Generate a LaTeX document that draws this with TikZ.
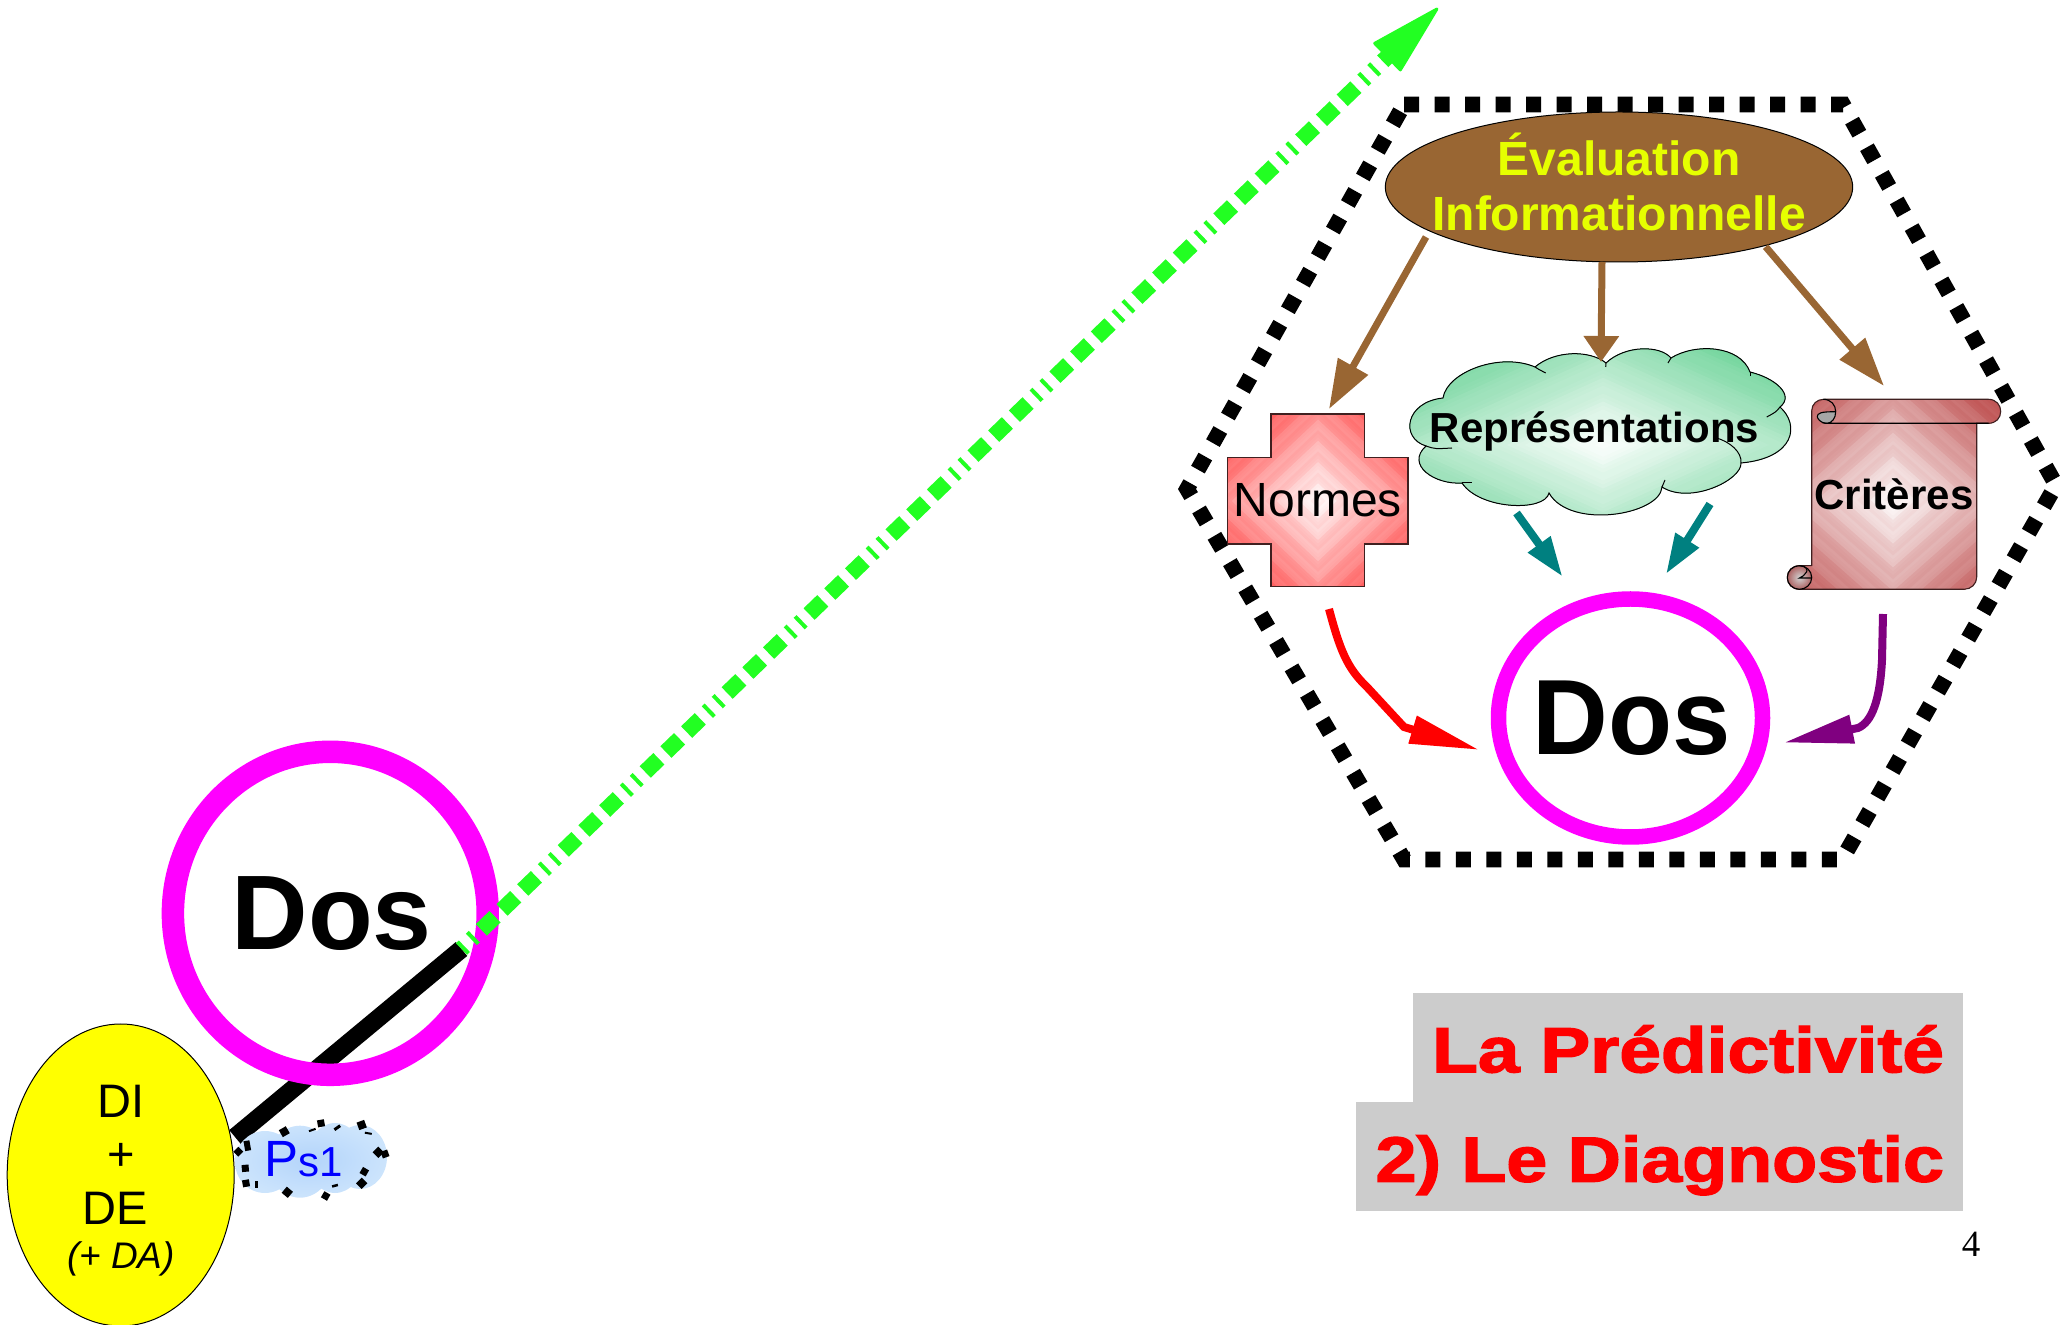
\documentclass[tikz,border=0pt]{standalone}
\usepackage{fontspec}
\setmainfont{Liberation Sans}
\newfontfamily\serifnum{Liberation Serif}
\newfontfamily\heavyfont[BoldFeatures={FakeBold=2}]{Liberation Sans}
\usetikzlibrary{arrows.meta,shapes.geometric}
\definecolor{ringmag}{HTML}{FF00FF}
\definecolor{brownfill}{HTML}{996633}
\definecolor{yellowtxt}{HTML}{E6FF00}
\definecolor{yellowfill}{HTML}{FFFF00}
\definecolor{teal1}{HTML}{008080}
\definecolor{purple1}{HTML}{800080}
\definecolor{green1}{HTML}{22FF22}
\definecolor{crossc}{HTML}{FF3C3C}
\definecolor{scrollc}{HTML}{C05555}
\definecolor{cloudc}{HTML}{55CC88}
\definecolor{greybox}{HTML}{CCCCCC}
\definecolor{outl}{HTML}{402020}
\definecolor{psin}{HTML}{B3D4FB}
\definecolor{psout}{HTML}{CCE4FC}
\definecolor{redtxt}{HTML}{FF0000}
\definecolor{bluetxt}{HTML}{0000FF}
\newcommand{\fs}[1]{\fontsize{#1}{#1}\selectfont}
% concentric diamond gradient with faint stripes
\newcommand{\diamfillb}[6]{%
  \foreach \i in {48,47,...,1}{%
    \pgfmathsetmacro\dT{\i/48}%
    \pgfmathsetmacro\pc{min(100,\dT*100+(mod(\i,6)<3?#6:0))}%
    \fill[#5!\pc!white] (#1-#3*\dT,#2) -- (#1,#2-#4*\dT) -- (#1+#3*\dT,#2) -- (#1,#2+#4*\dT) -- cycle;
  }}
\def\crosspath{(1271,414) -- (1364.7,414) -- (1364.7,457.3) -- (1408,457.3) -- (1408,544) -- (1364.7,544) -- (1364.7,586.7) -- (1271,586.7) -- (1271,544) -- (1227.3,544) -- (1227.3,457.3) -- (1271,457.3) -- cycle}
\def\cloudpath{(1443,398) .. controls (1447,372) and (1500,352) .. (1535,367)
 .. controls (1555,350) and (1590,350) .. (1606,363)
 .. controls (1625,345) and (1660,345) .. (1671,358)
 .. controls (1695,343) and (1740,345) .. (1750,372)
 .. controls (1775,378) and (1795,395) .. (1780,407)
 .. controls (1800,425) and (1795,458) .. (1741,463)
 .. controls (1742,480) and (1690,505) .. (1662,487)
 .. controls (1660,515) and (1570,530) .. (1549,493)
 .. controls (1545,512) and (1480,510) .. (1462,483)
 .. controls (1435,485) and (1405,465) .. (1426,446)
 .. controls (1400,438) and (1405,402) .. (1443,398) -- cycle}
\def\scrollpath{(1811.7,411) .. controls (1811.7,404) and (1817,399.3) .. (1824,399.3) -- (1988.5,399.3) .. controls (1996,399.3) and (2000.7,405) .. (2000.7,411.3) .. controls (2000.7,418) and (1996,423.3) .. (1988.5,423.3) -- (1976.7,423.3) -- (1976.7,577) .. controls (1976.7,584) and (1971,589.3) .. (1964,589.3) -- (1799.5,589.3) .. controls (1792,589.3) and (1787.3,584) .. (1787.3,577.5) .. controls (1787.3,571) and (1792,565.7) .. (1799.5,565.7) -- (1811.7,565.7) -- cycle}
\tikzset{
  txt/.style={inner sep=0pt,outer sep=0pt,anchor=base},
  ellnode/.style={ellipse,inner sep=0pt,outer sep=0pt},
  brownarrow/.style={draw=brownfill,line width=3.5pt},
  tealarrow/.style={draw=teal1,line width=4pt,-{Triangle[length=20pt,width=13pt]}},
  thinoutl/.style={draw=outl,line width=.55pt},
}
\begin{document}
\begin{tikzpicture}[x=.5pt,y=-.5pt]
\useasboundingbox (0,0) rectangle (2063,1325);
% hexagon
\draw[black,line width=7.8pt,dash pattern=on 7.5pt off 7.75pt] (1404,104.5) -- (1843,104.5) -- (2056,485) -- (1842,859.5) -- (1404,859.5) -- (1187,489) -- cycle;
% named connector ends
\coordinate (blackA) at (235,1137);
\coordinate (blackB) at (461.5,949);
\coordinate (greenTip) at (1438,8);
\coordinate (evalL) at (1426,237);
\coordinate (normT) at (1329,409);
\coordinate (evalM) at (1602,262);
\coordinate (repT) at (1601,362);
\coordinate (evalR) at (1765.6,246.7);
\coordinate (critT) at (1884,386);
\coordinate (repL) at (1516.5,513);
\coordinate (dosTL) at (1562.5,576.7);
\coordinate (repR) at (1710,504);
\coordinate (dosTR) at (1666,574);
\coordinate (normB) at (1329,609);
\coordinate (dosL) at (1479.5,750);
\coordinate (critB) at (1883,614);
\coordinate (dosR) at (1783.5,742.7);
% cross
\begin{scope}\clip \crosspath; \diamfillb{1318}{501}{180}{170}{crossc}{6}\end{scope}
\draw[thinoutl] \crosspath;
% cloud
\begin{scope}\clip \cloudpath; \diamfillb{1603}{445}{420}{190}{cloudc}{2}\end{scope}
\draw[black,line width=.5pt] \cloudpath;
\draw[black,line width=.5pt] (1535,367) .. controls (1538,369) .. (1545.7,373);
\draw[black,line width=.5pt] (1606,363) -- (1605.7,367);
\draw[black,line width=.5pt] (1671,358) -- (1668,363);
\draw[black,line width=.5pt] (1750,372) -- (1750,376);
\draw[black,line width=.5pt] (1780,407) .. controls (1776,412) .. (1766.7,417);
\draw[black,line width=.5pt] (1741,463) .. controls (1742,452) and (1730,442) .. (1716.7,438);
\draw[black,line width=.5pt] (1662,487) -- (1665,480);
\draw[black,line width=.5pt] (1462,483) -- (1472,483);
\draw[black,line width=.5pt] (1426,446) .. controls (1435,449) .. (1452,448);
% scroll
\begin{scope}\clip \scrollpath; \diamfillb{1893}{500}{215}{190}{scrollc}{6}\end{scope}
\draw[thinoutl] \scrollpath;
\fill[gray!70] (1826.7,423.3) .. controls (1820,423.3) and (1817.3,418) .. (1817.3,416.7) .. controls (1817.3,413) and (1821,411.7) .. (1835.7,411.7) .. controls (1835.7,418) and (1832,423.3) .. (1826.7,423.3);
\draw[black,line width=.55pt] (1823,399.3) .. controls (1831,399.3) and (1835.7,405) .. (1835.7,411.7) .. controls (1835.7,418) and (1832,423.3) .. (1826.7,423.3) -- (1988.5,423.3);
\draw[black,line width=.55pt] (1826.7,423.3) .. controls (1820,423.3) and (1817.3,418) .. (1817.3,416.7) .. controls (1817.3,413) and (1821,411.7) .. (1835.7,411.7);
\path[shade,inner color=gray!35,outer color=scrollc!70!gray,draw=black,line width=.55pt] (1799.5,577.5) ellipse [x radius=12.2,y radius=11.8];
\draw[black,line width=.55pt] (1799.5,565.7) .. controls (1806,565.7) and (1808,570) .. (1806.5,572) .. controls (1805,575) and (1802,577) .. (1799.5,578) -- (1811.7,578);
% brown ellipse
\node[ellnode,fill=brownfill,draw=black,line width=.5pt,minimum width=233.7pt,minimum height=75pt] (evalnode) at (1619,187) {};
\node[txt,text=yellowtxt,font=\fs{24}\bfseries] (evalt1) at (1619,175.7) {Évaluation};
\node[txt,text=yellowtxt,font=\fs{24}\bfseries] (evalt2) at (1619,231) {Informationnelle};
% brown arrows
\draw[brownarrow,-{Triangle[length=24.5pt,width=16.5pt]}] (evalL) -- (normT);
\draw[brownarrow,-{Triangle[length=13pt,width=17pt]}] (evalM) -- (repT);
\draw[brownarrow,-{Triangle[length=24.5pt,width=16pt]}] (evalR) -- (critT);
% teal arrows
\draw[tealarrow] (repL) -- (dosTL);
\draw[tealarrow] (repR) -- (dosTR);
% red, purple arrows
\draw[red,line width=4pt,-{Triangle[length=35pt,width=13.5pt]}] (normB) .. controls (1340,650) and (1347,668) .. (1367,687) -- (1404,727) -- (dosL);
\draw[purple1,line width=4pt,-{Triangle[length=35pt,width=13.5pt]}] (critB) -- (1882,660) .. controls (1880,700) and (1872,722) .. (1858,728) -- (dosR);
% texts
\node[txt,font=\fs{24}] (normes) at (1318,516.7) {Normes};
\node[txt,font=\fs{21}\bfseries] (reprs) at (1594.5,443) {Représentations};
\node[txt,font=\fs{21}\bfseries] (crit) at (1894,510) {Critères};
% right ring
\node[ellnode,draw=ringmag,line width=7.75pt,minimum width=132pt,minimum height=119pt] (dosright) at (1630.5,718) {};
\node[txt,font=\fs{53.5}\bfseries] (dosrt) at (1632,755) {\scalebox{.98}[1]{Dos}};
% black line, left ring, green line
\draw[black,line width=9pt] (blackA) -- (blackB);
\node[ellnode,draw=ringmag,line width=11.25pt,minimum width=157.4pt,minimum height=161.5pt] (dosleft) at (330.3,913.3) {};
\node[txt,font=\fs{53}\bfseries] (doslt) at (331.7,950) {\scalebox{1}[1]{Dos}};
\draw[green1,line width=8pt,dash pattern=on 2pt off 4.88pt on 2pt off 4.88pt on 9.5pt off 4.88pt on 9.5pt off 4.88pt on 9.5pt off 4.88pt,-{Triangle[length=38pt,width=20pt,round,line width=1.5pt]}] (blackB) -- (greenTip);
% yellow ellipse
\node[ellnode,fill=yellowfill,draw=black,line width=.5pt,minimum width=113.5pt,minimum height=151pt] (di) at (120.7,1175) {};
\node[txt,font=\fs{23.5}] (dit) at (120.7,1117) {DI};
\node[txt,font=\fs{23.5}] (plust) at (121,1170) {+};
\node[txt,font=\fs{23.5}] (det) at (115,1224) {DE};
\node[txt,font=\fs{18.5}\itshape] (dat) at (121,1268) {(+ DA)};
% small cloud
\path[shade,inner color=psin,outer color=psout]
  (265,1162) ellipse [x radius=30,y radius=31]
  (300,1161.7) ellipse [x radius=32,y radius=36]
  (335,1158) ellipse [x radius=28,y radius=35]
  (360,1157) ellipse [x radius=27,y radius=32];
\foreach \x/\y/\w/\h/\r in {238.3/1151.7/7/7/45,247.3/1145.7/6/10/10,245.3/1168.3/7/7/5,246/1183.3/7/7/10,256.7/1184/3/7/0,284.3/1131.7/8/8/30,287.3/1192.3/8/8/-40,321/1123.3/7/7/10,312.3/1130/7/2/20,337.3/1127.7/7/3/35,361.7/1125/8/8/20,368.3/1133.3/7/2/-10,378.3/1152.3/8/8/45,385/1154/7/7/20,364.3/1171.7/7/7/60,361.7/1183.3/8/8/45,335/1185.7/6/2.5/15,325.7/1196/7/7/-30}{
  \fill[black,rotate around={\r:(\x,\y)}] (\x-\w/2,\y-\h/2) rectangle (\x+\w/2,\y+\h/2);
}
\node[txt,anchor=base west,text=bluetxt] (pst) at (264,1176.7) {\fs{25.5}P\fs{21}s1};
% label boxes
\fill[greybox] (1413,992.7) rectangle (1963,1102);
\fill[greybox] (1355.6,1101.7) rectangle (1963,1210.7);
\node[txt,anchor=base east,text=redtxt,font=\fs{32}\heavyfont\bfseries] (lab1) at (1944,1072.3) {\scalebox{1.17}[1]{La Prédictivité}};
\node[txt,anchor=base east,text=redtxt,font=\fs{32}\heavyfont\bfseries] (lab2) at (1944,1181.7) {\scalebox{1.15}[1]{2) Le Diagnostic}};
\node[txt,font=\serifnum\fs{18.5}] (pagenum) at (1971,1256.7) {4};
\end{tikzpicture}
\end{document}
